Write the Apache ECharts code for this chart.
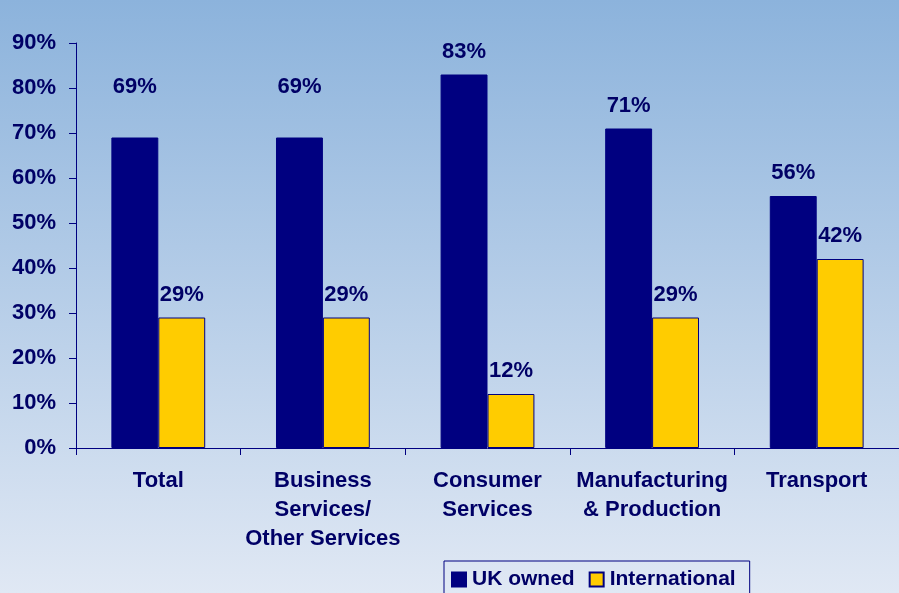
<!DOCTYPE html>
<html>
<head>
<meta charset="utf-8">
<script src="https://cdn.jsdelivr.net/npm/echarts@6/dist/echarts.min.js"></script>
<style>
  html, body { margin: 0; padding: 0; }
  #chart { width: 899px; height: 593px; }
</style>
</head>
<body>
<div id="chart"></div>
<script>
// Share of firms by ownership, per sector
const categories = ['Total', 'Business\nServices/\nOther Services', 'Consumer\nServices', 'Manufacturing\n& Production', 'Transport'];
const ukOwned = [69, 69, 83, 71, 56];
const international = [29, 29, 12, 29, 42];
const yTicks = { min: 0, max: 90, interval: 10 };

// Labels on the first two UK bars sit higher above their bars
const ukLabelLift = [28, 28, 0, 0, 0];

const navy = '#000080';
const textColor = '#000066';
const font = 'Arial, "Liberation Sans", sans-serif';
const fontSize = 22;

const chart = echarts.init(document.getElementById('chart'));

const labelStyle = {
  show: true,
  position: 'top',
  distance: 12,
  formatter: '{c}%',
  color: textColor,
  fontFamily: font,
  fontWeight: 'bold',
  fontSize: fontSize
};

chart.setOption({
  backgroundColor: new echarts.graphic.LinearGradient(0, 0, 0, 1, [
    { offset: 0, color: '#8cb3dc' },
    { offset: 1, color: '#e0e8f4' }
  ]),
  animation: false,
  textStyle: { fontFamily: font },
  grid: { left: 76, right: 0, top: 43, bottom: 145 },
  legend: {
    left: 444,
    top: 561,
    padding: [8, 14, 14, 7],
    itemGap: 14,
    itemWidth: 14,
    itemHeight: 14,
    borderColor: navy,
    borderWidth: 1,
    backgroundColor: 'rgba(0,0,0,0)',
    textStyle: { color: textColor, fontFamily: font, fontWeight: 'bold', fontSize: 21, padding: [0, 0, 0, 1] },
    data: [
      { name: 'UK owned', icon: 'rect' },
      { name: 'International', icon: 'rect' }
    ]
  },
  xAxis: {
    type: 'category',
    data: categories,
    axisLine: { lineStyle: { color: navy, width: 1 } },
    axisTick: { show: true, length: 7, lineStyle: { color: navy } },
    axisLabel: {
      interval: 0,
      margin: 18,
      color: textColor,
      fontFamily: font,
      fontWeight: 'bold',
      fontSize: fontSize,
      lineHeight: 29,
      align: 'center'
    }
  },
  yAxis: {
    type: 'value',
    min: yTicks.min,
    max: yTicks.max,
    interval: yTicks.interval,
    splitLine: { show: false },
    axisLine: { show: true, lineStyle: { color: navy, width: 1 } },
    axisTick: { show: true, length: 7, lineStyle: { color: navy } },
    axisLabel: {
      formatter: '{value}%',
      margin: 20,
      color: textColor,
      fontFamily: font,
      fontWeight: 'bold',
      fontSize: fontSize
    }
  },
  series: [
    {
      name: 'UK owned',
      type: 'bar',
      barGap: '0%',
      barCategoryGap: '43%',
      itemStyle: { color: navy, borderColor: navy, borderWidth: 1 },
      label: labelStyle,
      data: ukOwned.map((v, i) => ({
        value: v,
        label: { offset: [0, -ukLabelLift[i]] }
      }))
    },
    {
      name: 'International',
      type: 'bar',
      barGap: '0%',
      barCategoryGap: '43%',
      itemStyle: { color: '#ffcc00', borderColor: navy, borderWidth: 1 },
      label: labelStyle,
      data: international
    }
  ]
});
</script>
</body>
</html>
